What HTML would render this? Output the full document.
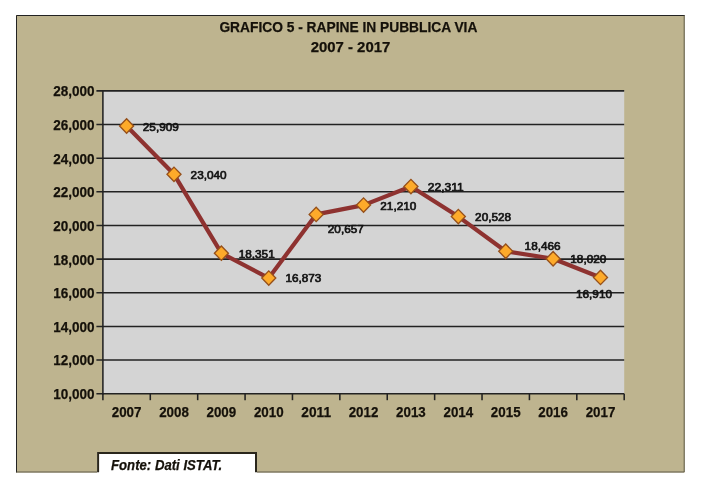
<!DOCTYPE html>
<html lang="it"><head><meta charset="utf-8"><title>Grafico 5 - Rapine in pubblica via 2007 - 2017</title>
<style>html,body{margin:0;padding:0;background:#fff;}body{width:704px;height:486px;overflow:hidden;position:relative;}svg{position:absolute;left:0;top:0;display:block;}text{font-family:"Liberation Sans",sans-serif;font-weight:bold;fill:#15110a;stroke:#15110a;stroke-width:0.25;}text.d{font-weight:normal;fill:#141414;stroke:#141414;stroke-width:0.7;stroke-linejoin:round;}</style></head><body>
<svg width="704" height="486" viewBox="0 0 704 486">
<rect x="0" y="0" width="704" height="486" fill="#ffffff"/>
<rect x="16" y="15" width="668.7" height="457.5" fill="#beb48f"/>
<path d="M16.5 472.5V15.5H684.7" fill="none" stroke="#222" stroke-width="1"/>
<path d="M684.2 15.5V472H16.5" fill="none" stroke="#5f5b48" stroke-width="1"/>
<rect x="102.9" y="90.85" width="521.3000000000001" height="302.85" fill="#d4d4d4"/>
<line x1="96.4" y1="90.85" x2="624.2" y2="90.85" stroke="#222222" stroke-width="1.55"/>
<text x="94.6" y="96.25" font-size="14.9" text-anchor="end" textLength="41.3" lengthAdjust="spacingAndGlyphs">28,000</text>
<line x1="96.4" y1="124.50" x2="624.2" y2="124.50" stroke="#222222" stroke-width="1.55"/>
<text x="94.6" y="129.90" font-size="14.9" text-anchor="end" textLength="41.3" lengthAdjust="spacingAndGlyphs">26,000</text>
<line x1="96.4" y1="158.15" x2="624.2" y2="158.15" stroke="#222222" stroke-width="1.55"/>
<text x="94.6" y="163.55" font-size="14.9" text-anchor="end" textLength="41.3" lengthAdjust="spacingAndGlyphs">24,000</text>
<line x1="96.4" y1="191.80" x2="624.2" y2="191.80" stroke="#222222" stroke-width="1.55"/>
<text x="94.6" y="197.20" font-size="14.9" text-anchor="end" textLength="41.3" lengthAdjust="spacingAndGlyphs">22,000</text>
<line x1="96.4" y1="225.45" x2="624.2" y2="225.45" stroke="#222222" stroke-width="1.55"/>
<text x="94.6" y="230.85" font-size="14.9" text-anchor="end" textLength="41.3" lengthAdjust="spacingAndGlyphs">20,000</text>
<line x1="96.4" y1="259.10" x2="624.2" y2="259.10" stroke="#222222" stroke-width="1.55"/>
<text x="94.6" y="264.50" font-size="14.9" text-anchor="end" textLength="41.3" lengthAdjust="spacingAndGlyphs">18,000</text>
<line x1="96.4" y1="292.75" x2="624.2" y2="292.75" stroke="#222222" stroke-width="1.55"/>
<text x="94.6" y="298.15" font-size="14.9" text-anchor="end" textLength="41.3" lengthAdjust="spacingAndGlyphs">16,000</text>
<line x1="96.4" y1="326.40" x2="624.2" y2="326.40" stroke="#222222" stroke-width="1.55"/>
<text x="94.6" y="331.80" font-size="14.9" text-anchor="end" textLength="41.3" lengthAdjust="spacingAndGlyphs">14,000</text>
<line x1="96.4" y1="360.05" x2="624.2" y2="360.05" stroke="#222222" stroke-width="1.55"/>
<text x="94.6" y="365.45" font-size="14.9" text-anchor="end" textLength="41.3" lengthAdjust="spacingAndGlyphs">12,000</text>
<line x1="96.4" y1="393.70" x2="624.2" y2="393.70" stroke="#222222" stroke-width="1.55"/>
<text x="94.6" y="399.10" font-size="14.9" text-anchor="end" textLength="41.3" lengthAdjust="spacingAndGlyphs">10,000</text>
<line x1="102.9" y1="90.14999999999999" x2="102.9" y2="394.4" stroke="#222222" stroke-width="1.55"/>
<line x1="102.90" y1="393.7" x2="102.90" y2="400.2" stroke="#222222" stroke-width="1.55"/>
<line x1="150.29" y1="393.7" x2="150.29" y2="400.2" stroke="#222222" stroke-width="1.55"/>
<line x1="197.68" y1="393.7" x2="197.68" y2="400.2" stroke="#222222" stroke-width="1.55"/>
<line x1="245.07" y1="393.7" x2="245.07" y2="400.2" stroke="#222222" stroke-width="1.55"/>
<line x1="292.46" y1="393.7" x2="292.46" y2="400.2" stroke="#222222" stroke-width="1.55"/>
<line x1="339.85" y1="393.7" x2="339.85" y2="400.2" stroke="#222222" stroke-width="1.55"/>
<line x1="387.25" y1="393.7" x2="387.25" y2="400.2" stroke="#222222" stroke-width="1.55"/>
<line x1="434.64" y1="393.7" x2="434.64" y2="400.2" stroke="#222222" stroke-width="1.55"/>
<line x1="482.03" y1="393.7" x2="482.03" y2="400.2" stroke="#222222" stroke-width="1.55"/>
<line x1="529.42" y1="393.7" x2="529.42" y2="400.2" stroke="#222222" stroke-width="1.55"/>
<line x1="576.81" y1="393.7" x2="576.81" y2="400.2" stroke="#222222" stroke-width="1.55"/>
<line x1="624.20" y1="393.7" x2="624.20" y2="400.2" stroke="#222222" stroke-width="1.55"/>
<text x="126.60" y="417.0" font-size="15.2" text-anchor="middle" textLength="29.7" lengthAdjust="spacingAndGlyphs">2007</text>
<text x="173.99" y="417.0" font-size="15.2" text-anchor="middle" textLength="29.7" lengthAdjust="spacingAndGlyphs">2008</text>
<text x="221.38" y="417.0" font-size="15.2" text-anchor="middle" textLength="29.7" lengthAdjust="spacingAndGlyphs">2009</text>
<text x="268.77" y="417.0" font-size="15.2" text-anchor="middle" textLength="29.7" lengthAdjust="spacingAndGlyphs">2010</text>
<text x="316.16" y="417.0" font-size="15.2" text-anchor="middle" textLength="29.7" lengthAdjust="spacingAndGlyphs">2011</text>
<text x="363.55" y="417.0" font-size="15.2" text-anchor="middle" textLength="29.7" lengthAdjust="spacingAndGlyphs">2012</text>
<text x="410.94" y="417.0" font-size="15.2" text-anchor="middle" textLength="29.7" lengthAdjust="spacingAndGlyphs">2013</text>
<text x="458.33" y="417.0" font-size="15.2" text-anchor="middle" textLength="29.7" lengthAdjust="spacingAndGlyphs">2014</text>
<text x="505.72" y="417.0" font-size="15.2" text-anchor="middle" textLength="29.7" lengthAdjust="spacingAndGlyphs">2015</text>
<text x="553.11" y="417.0" font-size="15.2" text-anchor="middle" textLength="29.7" lengthAdjust="spacingAndGlyphs">2016</text>
<text x="600.50" y="417.0" font-size="15.2" text-anchor="middle" textLength="29.7" lengthAdjust="spacingAndGlyphs">2017</text>
<polyline points="126.60,126.03 173.99,174.30 221.38,253.19 268.77,278.06 316.16,214.40 363.55,205.09 410.94,186.57 458.33,216.57 505.72,251.26 553.11,258.76 600.50,277.44" fill="none" stroke="#8e3230" stroke-width="4.2" stroke-linejoin="round" stroke-linecap="round"/>
<path d="M126.60 118.83L133.60 126.03L126.60 133.23L119.60 126.03Z" fill="#fdaa2a" stroke="#96501a" stroke-width="1.35" stroke-linejoin="miter"/>
<path d="M173.99 167.10L180.99 174.30L173.99 181.50L166.99 174.30Z" fill="#fdaa2a" stroke="#96501a" stroke-width="1.35" stroke-linejoin="miter"/>
<path d="M221.38 245.99L228.38 253.19L221.38 260.39L214.38 253.19Z" fill="#fdaa2a" stroke="#96501a" stroke-width="1.35" stroke-linejoin="miter"/>
<path d="M268.77 270.86L275.77 278.06L268.77 285.26L261.77 278.06Z" fill="#fdaa2a" stroke="#96501a" stroke-width="1.35" stroke-linejoin="miter"/>
<path d="M316.16 207.20L323.16 214.40L316.16 221.60L309.16 214.40Z" fill="#fdaa2a" stroke="#96501a" stroke-width="1.35" stroke-linejoin="miter"/>
<path d="M363.55 197.89L370.55 205.09L363.55 212.29L356.55 205.09Z" fill="#fdaa2a" stroke="#96501a" stroke-width="1.35" stroke-linejoin="miter"/>
<path d="M410.94 179.37L417.94 186.57L410.94 193.77L403.94 186.57Z" fill="#fdaa2a" stroke="#96501a" stroke-width="1.35" stroke-linejoin="miter"/>
<path d="M458.33 209.37L465.33 216.57L458.33 223.77L451.33 216.57Z" fill="#fdaa2a" stroke="#96501a" stroke-width="1.35" stroke-linejoin="miter"/>
<path d="M505.72 244.06L512.72 251.26L505.72 258.46L498.72 251.26Z" fill="#fdaa2a" stroke="#96501a" stroke-width="1.35" stroke-linejoin="miter"/>
<path d="M553.11 251.56L560.11 258.76L553.11 265.96L546.11 258.76Z" fill="#fdaa2a" stroke="#96501a" stroke-width="1.35" stroke-linejoin="miter"/>
<path d="M600.50 270.24L607.50 277.44L600.50 284.64L593.50 277.44Z" fill="#fdaa2a" stroke="#96501a" stroke-width="1.35" stroke-linejoin="miter"/>
<text class="d" x="142.8" y="130.75" font-size="11.7" textLength="36" lengthAdjust="spacingAndGlyphs">25,909</text>
<text class="d" x="190.6" y="178.75" font-size="11.7" textLength="36" lengthAdjust="spacingAndGlyphs">23,040</text>
<text class="d" x="238.7" y="257.75" font-size="11.7" textLength="36" lengthAdjust="spacingAndGlyphs">18,351</text>
<text class="d" x="285.4" y="281.85" font-size="11.7" textLength="36" lengthAdjust="spacingAndGlyphs">16,873</text>
<text class="d" x="327.8" y="232.55" font-size="11.7" textLength="36" lengthAdjust="spacingAndGlyphs">20,657</text>
<text class="d" x="380.3" y="210.25" font-size="11.7" textLength="36" lengthAdjust="spacingAndGlyphs">21,210</text>
<text class="d" x="427.8" y="190.75" font-size="11.7" textLength="36" lengthAdjust="spacingAndGlyphs">22,311</text>
<text class="d" x="475.1" y="221.25" font-size="11.7" textLength="36" lengthAdjust="spacingAndGlyphs">20,528</text>
<text class="d" x="524.6" y="250.15" font-size="11.7" textLength="36" lengthAdjust="spacingAndGlyphs">18,466</text>
<text class="d" x="570.3" y="263.45" font-size="11.7" textLength="36" lengthAdjust="spacingAndGlyphs">18,020</text>
<text class="d" x="576.0" y="298.45" font-size="11.7" textLength="36" lengthAdjust="spacingAndGlyphs">16,910</text>
<text x="219.4" y="31.75" font-size="15.1" textLength="258" lengthAdjust="spacingAndGlyphs">GRAFICO 5 - RAPINE IN PUBBLICA VIA</text>
<text x="350.5" y="51.85" font-size="15.1" text-anchor="middle" textLength="79.6" lengthAdjust="spacingAndGlyphs">2007 - 2017</text>
<rect x="97.1" y="452" width="159.9" height="26" fill="#ffffff"/>
<path d="M98.1 472.2V453H256V472.2" fill="none" stroke="#2a261c" stroke-width="2"/>
<text x="111" y="470.0" font-size="14.3" font-style="italic" textLength="111.2" lengthAdjust="spacingAndGlyphs">Fonte: Dati ISTAT.</text>
</svg></body></html>
